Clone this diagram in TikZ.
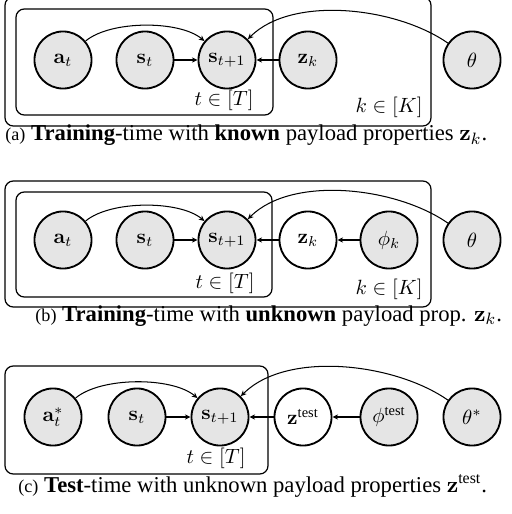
\documentclass[tikz,border=0pt]{standalone}
\usepackage{amsmath}
\usepackage[no-math]{fontspec}
\setmainfont{Liberation Serif}
\usetikzlibrary{arrows.meta}
\newcommand\subtagfont{\fontsize{8.8}{10}\selectfont}

\begin{document}
\begin{tikzpicture}[x=0.4854pt,y=-0.4854pt,
  latent/.style={circle,draw,line width=0.9pt,minimum size=27.7pt,inner sep=0pt,fill=white},
  obs/.style={latent,fill=gray!20},
  plate/.style={draw,line width=0.6pt,rounded corners=4pt},
  platelabel/.style={inner sep=0pt},
  edge/.style={line width=0.5pt,-{Stealth[length=2.7pt,width=2.5pt,inset=0.8pt]}},
  captext/.style={anchor=base west,inner sep=0pt,font=\fontsize{11}{13}\selectfont}]
\useasboundingbox (0,0) rectangle (511,514);
\clip (0,0) rectangle (511,514);

% ---------- (a) known payload properties ----------
\draw[plate] (5,-3) rectangle (431,126);
\draw[plate] (16,9) rectangle (273,115);
\node[obs] (aA)  at (63,60)  {$\mathbf{a}_t$};
\node[obs] (sA)  at (145,60) {$\mathbf{s}_t$};
\node[obs] (s1A) at (227,60) {$\mathbf{s}_{t+1}$};
\node[obs] (zA)  at (308,60) {$\mathbf{z}_k$};
\node[obs] (thA) at (472,60) {$\theta$};
\node[platelabel] (tA) at (224,100) {$t\in[T]$};
\node[platelabel] (kA) at (389,107) {$k\in[K]$};
\draw[edge] (sA) -- (s1A);
\draw[edge] (zA) -- (s1A);
\draw[edge] (aA) to[out=40,in=140,looseness=0.7] (s1A);
\draw[edge] (thA) to[out=145,in=45,looseness=0.8] (s1A);
\node[captext] (capA) at (5,141) {{\subtagfont (a)} \textbf{Training}-time with \textbf{known} payload properties $\mathbf{z}_k$.};

% ---------- (b) unknown payload properties ----------
\draw[plate] (5,181) rectangle (431,307);
\draw[plate] (16,192) rectangle (272,297);
\node[obs] (aB)  at (63,240)  {$\mathbf{a}_t$};
\node[obs] (sB)  at (145,240) {$\mathbf{s}_t$};
\node[obs] (s1B) at (227,240) {$\mathbf{s}_{t+1}$};
\node[latent] (zB) at (308,240) {$\mathbf{z}_k$};
\node[obs] (phB) at (389,240) {$\phi_k$};
\node[obs] (thB) at (472,240) {$\theta$};
\node[platelabel] (tB) at (225,283) {$t\in[T]$};
\node[platelabel] (kB) at (389,289) {$k\in[K]$};
\draw[edge] (sB) -- (s1B);
\draw[edge] (zB) -- (s1B);
\draw[edge] (phB) -- (zB);
\draw[edge] (aB) to[out=40,in=140,looseness=0.7] (s1B);
\draw[edge] (thB) to[out=145,in=45,looseness=0.8] (s1B);
\node[captext] (capB) at (35,321) {{\subtagfont (b)} \textbf{Training}-time with \textbf{unknown} payload prop. $\mathbf{z}_k$.};

% ---------- (c) test time ----------
\draw[plate] (5,366) rectangle (268,474);
\node[obs] (aC)  at (53,417)  {$\mathbf{a}^*_t$};
\node[obs] (sC)  at (137,417) {$\mathbf{s}_t$};
\node[obs] (s1C) at (220,417) {$\mathbf{s}_{t+1}$};
\node[latent] (zC) at (303,417) {$\mathbf{z}^{\text{test}}$};
\node[obs] (phC) at (389,417) {$\phi^{\text{test}}$};
\node[obs] (thC) at (472,417) {$\theta^*$};
\node[platelabel] (tC) at (216,458) {$t\in[T]$};
\draw[edge] (sC) -- (s1C);
\draw[edge] (zC) -- (s1C);
\draw[edge] (phC) -- (zC);
\draw[edge] (aC) to[out=40,in=140,looseness=0.7] (s1C);
\draw[edge] (thC) to[out=145,in=45,looseness=0.8] (s1C);
\node[captext] (capC) at (18,492) {{\subtagfont (c)} \textbf{Test}-time with unknown payload properties $\mathbf{z}^{\text{test}}$.};
\end{tikzpicture}
\end{document}
